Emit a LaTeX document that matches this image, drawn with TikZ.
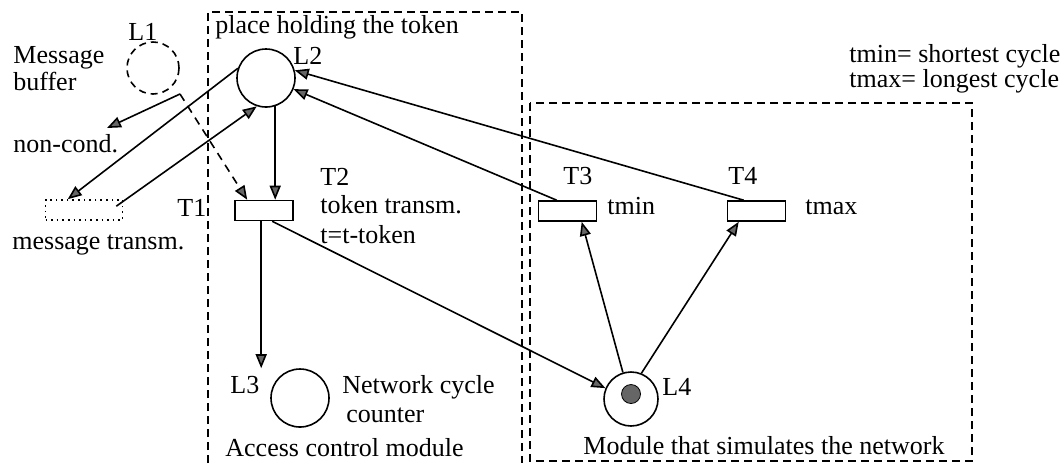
\documentclass[tikz,border=0pt]{standalone}
\usepackage{fontspec}
\setmainfont{Liberation Serif}
\usetikzlibrary{arrows.meta,calc}
\begin{document}
\begin{tikzpicture}[x=0.5pt,y=-0.5pt,
  place/.style={circle, draw, line width=0.8pt, minimum size=29pt, inner sep=0pt},
  trans/.style={rectangle, draw, line width=0.8pt, minimum width=29pt, minimum height=10pt, inner sep=0pt},
  lbl/.style={inner sep=0pt, anchor=base west, font=\fontsize{13}{15}\selectfont},
  arc/.style={line width=0.8pt, -{Triangle[length=7pt,width=5.5pt,fill=black!60]}},
  module/.style={line width=0.75pt, dash pattern=on 4pt off 2.5pt},
  dasharc/.style={arc, dash pattern=on 4pt off 3pt}
]
\useasboundingbox (0,0) rectangle (1063,463);

% module frames
\draw[module] (208,463) -- (208,12) -- (522,12) -- (522,463);
\draw[module] (530,103) rectangle (972,461);

% places
\node[place, dash pattern=on 3.5pt off 2.5pt, minimum size=26pt] (L1) at (153,68) {};
\node[place] (L2) at (266,78) {};
\node[place] (L3) at (300,398) {};
\node[place, minimum size=27pt] (L4) at (631,399) {};
\node[circle, draw, fill=black!60, minimum size=9.5pt, inner sep=0pt] (tok) at (631,394) {};

% transitions
\node[trans, dotted, minimum width=38.5pt] (T1) at (84,210) {};
\node[trans] (T2) at (264,210.5) {};
\node[trans] (T3) at (567.5,211) {};
\node[trans] (T4) at (756.5,211) {};

% texts
\node[lbl] (tL1) at (128,40) {L1};
\node[lbl] (tmsg1) at (13,63) {Message};
\node[lbl] (tmsg2) at (13,90) {buffer};
\node[lbl] (tnc) at (13,152) {non-cond.};
\node[lbl] (tmt) at (12,249) {message transm.};
\node[lbl] (tT1) at (177,216) {T1};
\node[lbl] (tplace) at (215,33) {place holding the token};
\node[lbl] (tL2) at (293,64) {L2};
\node[lbl] (tT2) at (320,185) {T2};
\node[lbl] (ttt) at (320,213) {token transm.};
\node[lbl] (ttok) at (320,243) {t=t-token};
\node[lbl] (tT3) at (563,184) {T3};
\node[lbl] (ttmin) at (607,214) {tmin};
\node[lbl] (tT4) at (728,184) {T4};
\node[lbl] (ttmax) at (805,214) {tmax};
\node[lbl] (tL3) at (230,393) {L3};
\node[lbl] (tnet1) at (342,393) {Network cycle};
\node[lbl] (tnet2) at (346,422) {counter};
\node[lbl] (tacc) at (225,456) {Access control module};
\node[lbl] (tL4) at (662,395) {L4};
\node[lbl] (tsim) at (583,454) {Module that simulates the network};
\node[lbl] (tleg1) at (849,62) {tmin= shortest cycle};
\node[lbl] (tleg2) at (849,87) {tmax= longest cycle};

% helper coordinates
\coordinate (L1out) at (180,94);
\coordinate (ncin) at (107,128);
\coordinate (t2b) at ([xshift=13.5pt]T2.south west);

% arcs
\draw[arc] (L1out) -- (ncin);
\draw[dasharc] (L1out) -- ([xshift=6.5pt]T2.north west);
\draw[arc] (L2.161) -- ([xshift=11.5pt]T1.north west);
\draw[arc] ([xshift=-3.5pt,yshift=-3.5pt]T1.north east) -- (L2.-108);
\draw[arc] (L2.-72) -- (L2.-72 |- T2.north);
\draw[arc] ([xshift=9.5pt]T3.north west) -- (L2.-22);
\draw[arc] ([xshift=8.5pt]T4.north west) -- (L2.15);
\draw[arc] (t2b) -- (t2b |- L3.north);
\draw[arc] ([xshift=19pt]T2.south west) -- (L4.157);
\draw[arc] (L4.107) -- ([xshift=22pt]T3.south west);
\draw[arc] (L4.68) -- ([xshift=6pt]T4.south west);
\end{tikzpicture}
\end{document}
